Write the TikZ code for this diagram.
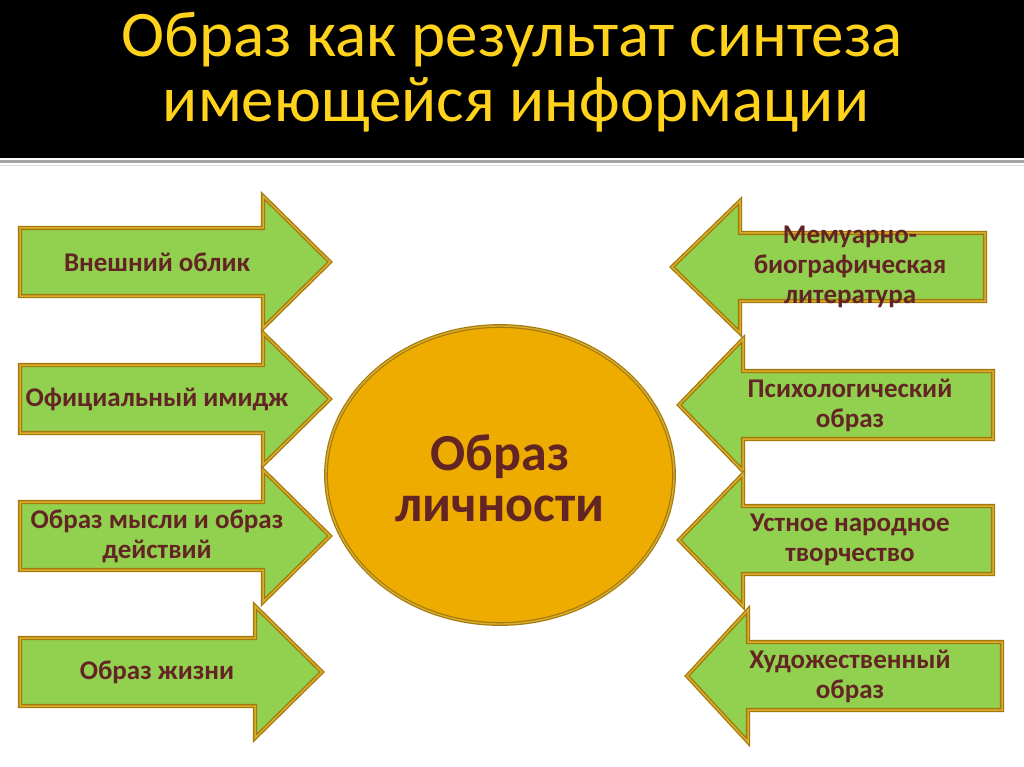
\documentclass[tikz,border=0pt]{standalone}
\usepackage{fontspec}
\setmainfont{Carlito}
\definecolor{titlegold}{HTML}{FFD21C}
\definecolor{textred}{HTML}{632523}
\definecolor{leafgreen}{HTML}{92D050}
\definecolor{rimdark}{HTML}{A3790C}
\definecolor{rimlight}{HTML}{D9AD2C}
\definecolor{discgold}{HTML}{EFAC00}
\begin{document}
\begin{tikzpicture}
[x=1pt,y=-1pt,
 arrowshape/.style={fill=leafgreen,draw=rimdark,double=rimlight,line width=1.3pt,double distance=1.5pt,line join=miter},
 lbl/.style={text=textred,align=center,font=\bfseries\fontsize{27}{30}\selectfont},
 titletext/.style={text=titlegold,anchor=base,font=\fontsize{65}{72}\selectfont}]
\useasboundingbox (0,0) rectangle (1024,767);
%% header band
\fill[black] (0,0) rectangle (1024,158);
\draw[gray!70,line width=3pt] (0,162) -- (1024,162);
\draw[gray!25,line width=1pt] (0,166) -- (1024,166);
\node[titletext] (title1) at (512,57) {Образ как результат синтеза};
\node[titletext] (title2) at (516,122) {имеющейся информации};
%% arrows pointing in from the left
\foreach \n/\xa/\xb/\xc/\yc/\txt in {1/20/263/330/262/{Внешний облик},
  2/20/263/330/399/{Официальный имидж}, 3/20/263/330/536/{Образ мысли и образ\\действий},
  4/20/255/322/672/{Образ жизни}} {
  \draw[arrowshape] (\xa,\yc-34) -- (\xb,\yc-34) -- (\xb,\yc-66) -- (\xc,\yc)
    -- (\xb,\yc+66) -- (\xb,\yc+34) -- (\xa,\yc+34) -- cycle;
  \node[lbl] (left\n) at (157,\yc) {\txt};
}
%% arrows pointing in from the right
\foreach \n/\xa/\xb/\xc/\yc/\txt in {1/985/740/672/267/{Мемуарно-\\биографическая\\литература},
  2/993/743/679/405/{Психологический\\образ}, 3/993/743/679/540/{Устное народное\\творчество},
  4/1002/748/687/676/{Художественный\\образ}} {
  \draw[arrowshape] (\xa,\yc-34) -- (\xb,\yc-34) -- (\xb,\yc-66) -- (\xc,\yc)
    -- (\xb,\yc+66) -- (\xb,\yc+34) -- (\xa,\yc+34) -- cycle;
  \node[lbl] (right\n) at (850,\yc) {\txt};
}
%% centre
\draw[fill=discgold,draw=rimdark,double=rimlight,line width=1.2pt,double distance=1.4pt]
  (500,475) ellipse [x radius=174,y radius=149];
\node[text=textred,align=center,font=\bfseries\fontsize{52}{51}\selectfont] (core) at (500,478) {Образ\\личности};
\end{tikzpicture}
\end{document}
